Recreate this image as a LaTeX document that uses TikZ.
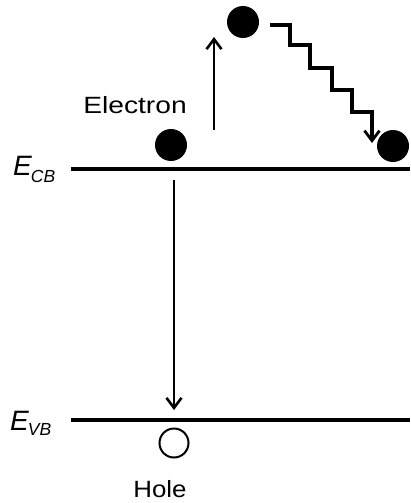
\documentclass[tikz,border=0pt]{standalone}
\usepackage{fontspec}
\setmainfont{Liberation Sans}
\usetikzlibrary{arrows.meta}
\begin{document}
\begin{tikzpicture}[x=1pt,y=-1pt,
  level/.style={line width=3.6pt},
  electron/.style={circle,fill=black,minimum size=32pt,inner sep=0pt},
  hole/.style={circle,draw=black,line width=2pt,minimum size=29pt,inner sep=0pt},
  transition/.style={line width=2.6pt,-{Straight Barb[length=10pt,width=15pt,line width=2.6pt]}},
  relax/.style={line width=3.6pt,-{Straight Barb[length=10pt,width=15pt,line width=2.8pt]}},
  lbl/.style={font=\fontsize{23.5}{26}\selectfont,inner sep=0pt}]
\useasboundingbox (0,0) rectangle (410,503);
% levels
\coordinate (cbL) at (71,169);
\coordinate (cbR) at (410,169);
\coordinate (vbL) at (71,420);
\coordinate (vbR) at (410,420);
\draw[level] (cbL) -- (cbR);
\draw[level] (vbL) -- (vbR);
% level labels
\node[lbl,anchor=base west] (ecb) at (13,175) {\fontsize{28}{30}\selectfont\itshape E\kern-1pt\raisebox{-7pt}{\fontsize{17.5}{19}\selectfont CB}};
\node[lbl,anchor=base west] (evb) at (10,430) {\fontsize{28}{30}\selectfont\itshape E\kern-1pt\raisebox{-5pt}{\fontsize{17.5}{19}\selectfont VB}};
% particles
\node[electron] (e1) at (171,145) {};
\node[electron] (e2) at (243,22) {};
\node[electron] (e3) at (393,146) {};
\node[hole] (h) at (174,443) {};
% labels
\node[lbl] (elab) at (135,105) {\scalebox{1.2}[1]{Electron}};
\node[lbl] (hlab) at (160,489) {\scalebox{1.1}[1]{Hole}};
% excitation arrow
\coordinate (upS) at (214,130);
\coordinate (upE) at (214,37);
\draw[transition] (upS) -- (upE);
% recombination arrow
\coordinate (dnS) at (174,180);
\coordinate (dnE) at (174,410);
\draw[transition] (dnS) -- (dnE);
% relaxation staircase
\coordinate (stS) at (270,25);
\coordinate (stE) at (372,143);
\draw[relax,line join=miter] (stS) -- (290,25) -- (290,45) -- (310,45) -- (310,68) -- (332,68) -- (332,90) -- (352,90) -- (352,112) -- (372,112) -- (stE);
\end{tikzpicture}
\end{document}
